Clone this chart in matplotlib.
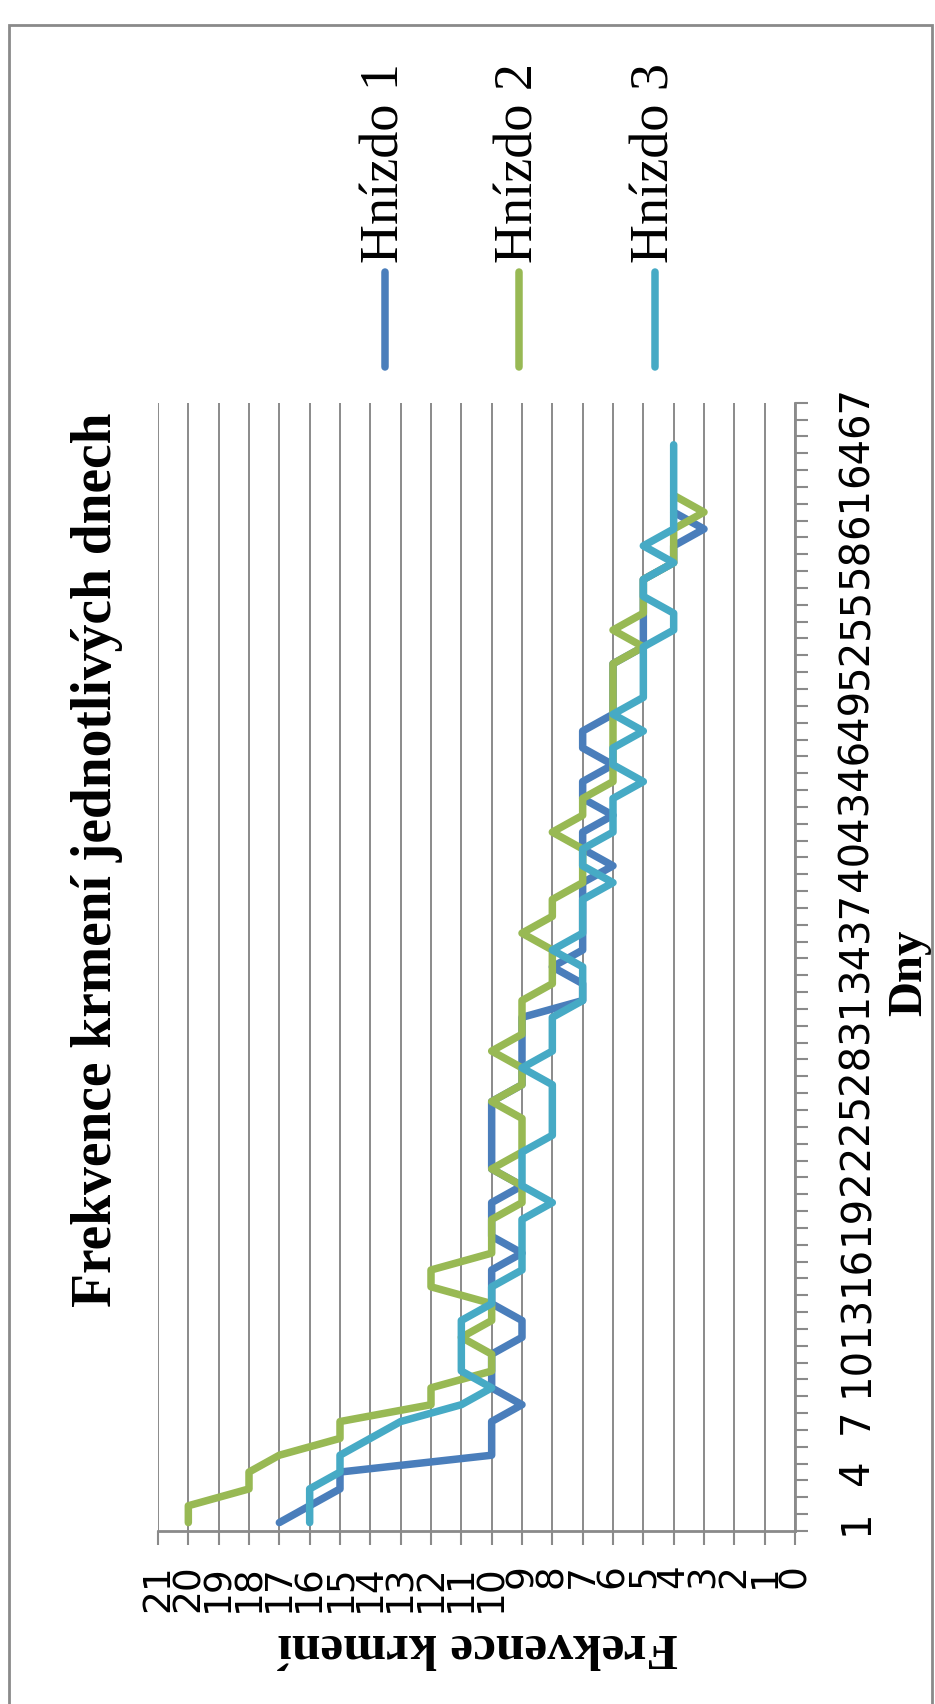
import matplotlib
matplotlib.use("Agg")
import matplotlib.pyplot as plt
from matplotlib.lines import Line2D
from matplotlib.patches import Rectangle

# --- data -------------------------------------------------------------
days = list(range(1, 68))
day_ticks = list(range(1, 68, 3))
day_labels = [str(d) for d in day_ticks]
freq_ticks = list(range(0, 22))
freq_labels = [str(v) for v in freq_ticks]

hnizdo1 = [17, 16, 15, 15, 10, 10, 10, 9, 10, 10,
           10, 9, 9, 10, 10, 10, 9, 10, 10, 10,
           9, 10, 10, 10, 10, 10, 9, 9, 9, 9,
           9, 7, 7, 8, 7, 7, 7, 7, 7, 6,
           7, 7, 6, 7, 7, 6, 7, 7, 6, 6,
           6, 6, 5, 5, 5, 5, 5, 4, 4, 3,
           4]
hnizdo2 = [20, 20, 18, 18, 17, 15, 15, 12, 12, 10,
           10, 11, 10, 10, 12, 12, 10, 10, 10, 9,
           9, 10, 9, 9, 9, 10, 9, 9, 10, 9,
           9, 9, 8, 8, 8, 9, 8, 8, 7, 7,
           7, 8, 7, 7, 6, 6, 6, 6, 6, 6,
           6, 6, 5, 6, 5, 5, 5, 4, 4, 4,
           3, 4]
hnizdo3 = [16, 16, 16, 15, 15, 14, 13, 11, 10, 11,
           11, 11, 11, 10, 10, 9, 9, 9, 9, 8,
           9, 9, 9, 8, 8, 8, 8, 9, 8, 8,
           8, 7, 7, 7, 8, 7, 7, 7, 6, 7,
           7, 6, 6, 6, 5, 6, 6, 5, 6, 5,
           5, 5, 5, 4, 4, 5, 5, 4, 5, 4,
           4, 4, 4, 4, 4]

series = [hnizdo1, hnizdo2, hnizdo3]
series_names = ["Hnízdo 1", "Hnízdo 2", "Hnízdo 3"]
series_colors = ["#4A7EBB", "#98B954", "#46AAC5"]

# --- figure -------------------------------------------------------------
W, H, DPI = 935, 1704, 100
fig = plt.figure(figsize=(W / DPI, H / DPI), dpi=DPI)
fig.patch.set_facecolor("white")

GRAY = "#8a8a8a"
SERIF = ["Liberation Serif", "DejaVu Serif"]
SANS = ["DejaVu Sans"]
LINE_W = 5.4


def fx(x):
    return x / W


def fy(y):
    return 1 - y / H


# outer frame
fig.add_artist(Rectangle((fx(9), fy(1720)), fx(932) - fx(9), fy(25) - fy(1720),
                         transform=fig.transFigure, fill=False,
                         edgecolor=GRAY, linewidth=2.0))

# plot area (chart drawn turned a quarter turn: days run upward, values leftward)
ax = fig.add_axes([fx(158), fy(1531), fx(795) - fx(158), fy(402.7) - fy(1531)])

for vals, color, name in zip(series, series_colors, series_names):
    ax.plot(vals, days[:len(vals)], color=color, lw=LINE_W,
            solid_joinstyle="round", solid_capstyle="round", zorder=3, label=name)

ax.set_xlim(21, 0)
ax.set_ylim(0.5, 67.5)

# value axis (bottom)
ax.set_xticks(freq_ticks)
ax.set_xticklabels(freq_labels, fontfamily=SANS, fontsize=27, rotation=90,
                   va="top", ha="center")
ax.tick_params(axis="x", which="major", length=10, width=1.5, color=GRAY,
               direction="out", pad=14)
ax.grid(axis="x", color=GRAY, lw=1.4)
ax.set_axisbelow(True)

# day axis (right)
ax.yaxis.tick_right()
ax.set_yticks(day_ticks)
ax.set_yticklabels(day_labels, fontfamily=SANS, fontsize=29, rotation=90,
                   va="center", ha="left")
ax.set_yticks([d + 0.5 for d in range(0, 68)], minor=True)
ax.tick_params(axis="y", which="major", length=0, pad=30)
ax.tick_params(axis="y", which="minor", length=9, width=1.5, color=GRAY,
               direction="out")

for side in ("top", "left"):
    ax.spines[side].set_visible(False)
for side in ("right", "bottom"):
    ax.spines[side].set_color(GRAY)
    ax.spines[side].set_linewidth(2.0)

ax.set_xlabel("Frekvence krmení", fontfamily=SERIF, fontweight="bold",
              fontsize=37, rotation=180, ha="center", va="center")
ax.xaxis.set_label_coords(0.502, -0.102)
ax.yaxis.set_label_position("right")
ax.set_ylabel("Dny", fontfamily=SERIF, fontweight="bold", fontsize=35,
              rotation=90, ha="center", va="center")
ax.yaxis.set_label_coords(1.18, 0.495)

# title
fig.text(fx(97), fy(860), "Frekvence krmení jednotlivých dnech",
         fontfamily=SERIF, fontweight="bold", fontsize=40,
         rotation=90, ha="center", va="center")

# legend
for xpos, color, name in zip([385, 519, 655], series_colors, series_names):
    fig.add_artist(Line2D([fx(xpos), fx(xpos)], [fy(272), fy(367)],
                          transform=fig.transFigure, color=color, lw=LINE_W,
                          solid_capstyle="round"))
    fig.text(fx(xpos), fy(263), name, fontfamily=SERIF, fontsize=39,
             rotation=90, ha="center", va="bottom")

fig.savefig("out.png", dpi=DPI, facecolor="white")
